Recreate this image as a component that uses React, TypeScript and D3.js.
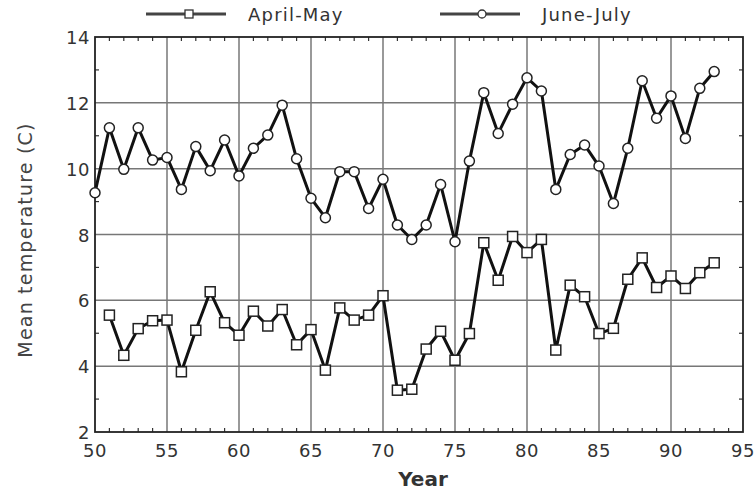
import React from 'react';
import * as d3 from 'd3';

const years = d3.range(1950, 1994);
const juneJuly = [
  9.27, 11.24, 9.98, 11.24, 10.26, 10.34, 9.37, 10.67, 9.94, 10.87,
  9.78, 10.62, 11.02, 11.93, 10.3, 9.1, 8.51, 9.91, 9.91, 8.79,
  9.68, 8.29, 7.85, 8.29, 9.52, 7.78, 10.23, 12.31, 11.07, 11.96,
  12.76, 12.36, 9.37, 10.43, 10.72, 10.08, 8.94, 10.62, 12.67, 11.53,
  12.21, 10.92, 12.44, 12.95,
];
// April-May starts in 1951
const aprilMayYears = d3.range(1951, 1994);
const aprilMay = [
  5.55, 4.33, 5.14, 5.38, 5.4, 3.83, 5.09, 6.26, 5.32,
  4.94, 5.67, 5.22, 5.72, 4.65, 5.11, 3.88, 5.77, 5.4, 5.55,
  6.14, 3.27, 3.3, 4.52, 5.06, 4.18, 4.99, 7.75, 6.61, 7.94,
  7.45, 7.85, 4.49, 6.46, 6.11, 4.99, 5.15, 6.64, 7.29, 6.39,
  6.74, 6.36, 6.84, 7.14,
];
const xTicks = [50, 55, 60, 65, 70, 75, 80, 85, 90, 95];
const yTicks = [2, 4, 6, 8, 10, 12, 14];

const W = 756, H = 495;
const left = 95, right = 743, top = 37, bottom = 432;
const font = "'DejaVu Sans', Verdana, sans-serif";

export default function App() {
  const x = d3.scaleLinear().domain([50, 95]).range([left, right]);
  const y = d3.scaleLinear().domain([2, 14]).range([bottom, top]);
  const line = d3.line<[number, number]>()
    .x(d => x(d[0] - 1900))
    .y(d => y(d[1]));
  const jj: [number, number][] = years.map((yr, i) => [yr, juneJuly[i]]);
  const am: [number, number][] = aprilMayYears.map((yr, i) => [yr, aprilMay[i]]);
  const minorX = d3.range(51, 95).filter(v => v % 5 !== 0);
  const minorY = d3.range(3, 14, 2);

  return (
    <svg width={W} height={H} style={{ position: 'absolute', left: 0, top: 0, background: '#fff' }}>
      {/* grid */}
      {xTicks.slice(1, -1).map(t => (
        <line key={'gx' + t} x1={x(t)} x2={x(t)} y1={top} y2={bottom} stroke="#777" strokeWidth={1.5} />
      ))}
      {yTicks.slice(1, -1).map(t => (
        <line key={'gy' + t} x1={left} x2={right} y1={y(t)} y2={y(t)} stroke="#777" strokeWidth={1.5} />
      ))}
      {/* minor ticks */}
      {minorX.map(t => (
        <g key={'mx' + t} stroke="#333" strokeWidth={1.2}>
          <line x1={x(t)} x2={x(t)} y1={bottom} y2={bottom - 4} />
          <line x1={x(t)} x2={x(t)} y1={top} y2={top + 4} />
        </g>
      ))}
      {minorY.map(t => (
        <g key={'my' + t} stroke="#333" strokeWidth={1.2}>
          <line x1={left} x2={left + 4} y1={y(t)} y2={y(t)} />
          <line x1={right} x2={right - 4} y1={y(t)} y2={y(t)} />
        </g>
      ))}
      <rect x={left} y={top} width={right - left} height={bottom - top} fill="none" stroke="#222" strokeWidth={1.8} />
      {/* tick labels */}
      {xTicks.map(t => (
        <text key={'tx' + t} x={x(t)} y={bottom + 25} textAnchor="middle" fontFamily={font} fontSize={18} letterSpacing={0.5} fill="#333">{t}</text>
      ))}
      {yTicks.map(t => (
        <text key={'ty' + t} x={left - 5} y={y(t) + 7} textAnchor="end" fontFamily={font} fontSize={18} letterSpacing={0.5} fill="#333">{t}</text>
      ))}
      <text x={423} y={486} textAnchor="middle" fontFamily={font} fontSize={20} fontWeight="bold" fill="#333">Year</text>
      <text transform={`translate(32,240) rotate(-90)`} textAnchor="middle" fontFamily={font} fontSize={19} letterSpacing={1.2} fill="#444">Mean temperature (C)</text>
      {/* series */}
      <path d={line(jj) || ''} fill="none" stroke="#111" strokeWidth={3} strokeLinejoin="round" />
      <path d={line(am) || ''} fill="none" stroke="#111" strokeWidth={3} strokeLinejoin="round" />
      {jj.map(d => (
        <circle key={'c' + d[0]} cx={x(d[0] - 1900)} cy={y(d[1])} r={5} fill="#fff" stroke="#222" strokeWidth={1.5} />
      ))}
      {am.map(d => (
        <rect key={'s' + d[0]} x={x(d[0] - 1900) - 5} y={y(d[1]) - 5} width={10} height={10} fill="#fff" stroke="#222" strokeWidth={1.5} />
      ))}
      {/* legend */}
      <line x1={146} x2={226} y1={14} y2={14} stroke="#444" strokeWidth={3} />
      <rect x={185} y={10} width={8} height={8} fill="#fff" stroke="#333" strokeWidth={1.3} />
      <text x={248} y={21} fontFamily={font} fontSize={18} letterSpacing={1.2} fill="#333">April-May</text>
      <line x1={440} x2={520} y1={14} y2={14} stroke="#444" strokeWidth={3} />
      <circle cx={482} cy={14} r={4} fill="#fff" stroke="#333" strokeWidth={1.3} />
      <text x={542} y={21} fontFamily={font} fontSize={18} letterSpacing={1.2} fill="#333">June-July</text>
    </svg>
  );
}
